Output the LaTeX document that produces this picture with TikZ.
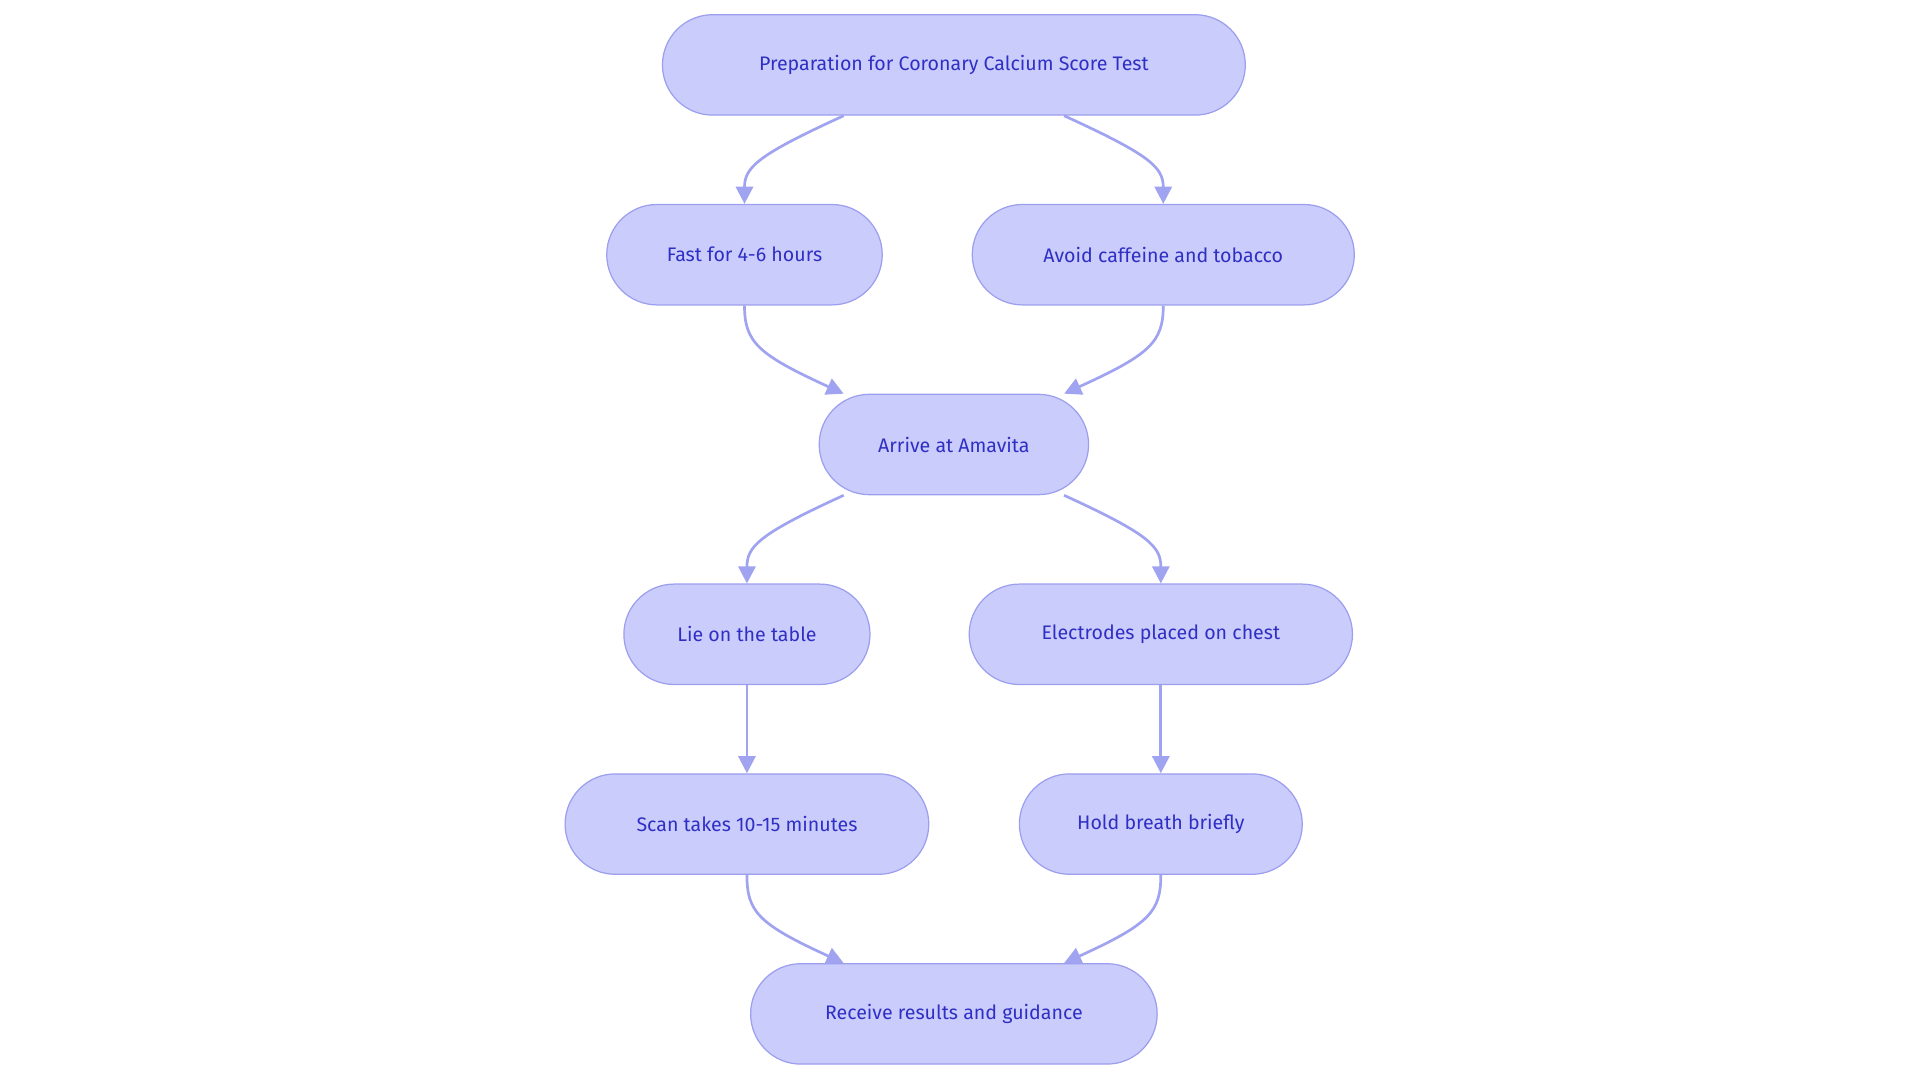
\documentclass[tikz,border=0pt]{standalone}
\usepackage{fontspec}
\setmainfont{Fira Sans}
\usetikzlibrary{arrows.meta,calc}
\definecolor{nfill}{HTML}{CACCFC}
\definecolor{ndraw}{HTML}{9C9EEE}
\definecolor{ntext}{HTML}{2F2FC4}
\definecolor{edge}{HTML}{A0A3F0}
\begin{document}
\begin{tikzpicture}[x=1pt,y=-1pt,
  box/.style={draw=ndraw,fill=nfill,line width=1pt,rounded corners=41pt,minimum height=82pt,text=ntext,font=\fontsize{16}{18}\selectfont,inner sep=0pt},
  ed/.style={draw=edge,line width=2.2pt,-{Triangle[length=14pt,width=14pt]}}]
\useasboundingbox (0,0) rectangle (1568,884.4);
\node[box,minimum width=476pt] (top) at (779,53) {Preparation for Coronary Calcium Score Test};
\node[box,minimum width=225pt] (fast) at (608,208) {Fast for 4-6 hours};
\node[box,minimum width=312pt] (avoid) at (950,208) {Avoid caffeine and tobacco};
\node[box,minimum width=220pt] (arr) at (779,363) {Arrive at Amavita};
\node[box,minimum width=201pt] (lie) at (610,518) {Lie on the table};
\node[box,minimum width=313pt] (ele) at (948,518) {Electrodes placed on chest};
\node[box,minimum width=297pt] (scan) at (610,673) {Scan takes 10-15 minutes};
\node[box,minimum width=231pt] (hold) at (948,673) {Hold breath briefly};
\node[box,minimum width=332pt] (rec) at (779,828) {Receive results and guidance};
\draw[ed] ($(top.south)+(-90,0)$) .. controls +(-70,32) and +(0,-30) .. (fast.north);
\draw[ed] ($(top.south)+(90,0)$) .. controls +(70,32) and +(0,-30) .. (avoid.north);
\draw[ed] (fast.south) .. controls +(0,30) and +(-70,-32) .. ($(arr.north)+(-90,0)$);
\draw[ed] (avoid.south) .. controls +(0,30) and +(70,-32) .. ($(arr.north)+(90,0)$);
\draw[ed] ($(arr.south)+(-90,0)$) .. controls +(-70,32) and +(0,-30) .. (lie.north);
\draw[ed] ($(arr.south)+(90,0)$) .. controls +(70,32) and +(0,-30) .. (ele.north);
\draw[ed] (lie) -- (scan);
\draw[ed] (ele) -- (hold);
\draw[ed] (scan.south) .. controls +(0,30) and +(-70,-32) .. ($(rec.north)+(-90,0)$);
\draw[ed] (hold.south) .. controls +(0,30) and +(70,-32) .. ($(rec.north)+(90,0)$);
\end{tikzpicture}
\end{document}
